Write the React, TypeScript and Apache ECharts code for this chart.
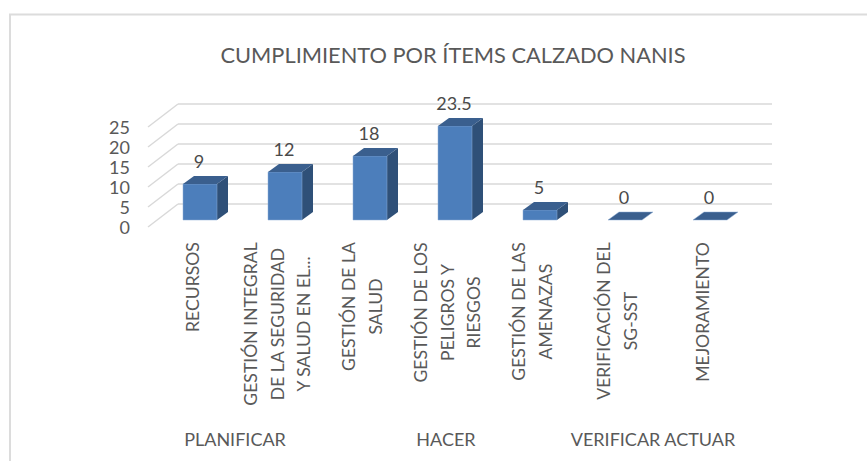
import React, { useEffect, useRef } from "react";
import * as echarts from "echarts";

const title = "CUMPLIMIENTO POR ÍTEMS CALZADO NANIS";
const categories = [
  "RECURSOS",
  "GESTIÓN INTEGRAL\nDE LA SEGURIDAD\nY SALUD EN EL...",
  "GESTIÓN DE LA\nSALUD",
  "GESTIÓN DE LOS\nPELIGROS Y\nRIESGOS",
  "GESTIÓN DE LAS\nAMENAZAS",
  "VERIFICACIÓN DEL\nSG-SST",
  "MEJORAMIENTO",
];
// Bar heights as drawn in the picture; the printed labels differ for two bars.
const values = [9, 12, 16, 23.5, 2.5, 0, 0];
const valueLabels = ["9", "12", "18", "23.5", "5", "0", "0"];
const groups = ["PLANIFICAR", "HACER", "VERIFICAR ACTUAR"];
const ticks = [0, 5, 10, 15, 20, 25];

const FONT = "Lato";
const INK = "#595959";
const LABEL_SIZE = 17.6;

export default function App() {
  const ref = useRef<HTMLDivElement>(null);
  useEffect(() => {
    const chart = echarts.init(ref.current!, undefined, { renderer: "svg" });
    const rich: Record<string, any> = {};
    const keyOf = categories.map((c, i) => {
      const font = `${LABEL_SIZE}px ${FONT}`;
      const w = Math.max(...c.split("\n").map((l) => (echarts as any).format.getTextRect(l, font).width));
      rich["c" + i] = { width: Math.ceil(w), align: "center", fontFamily: FONT, fontSize: LABEL_SIZE, color: INK, lineHeight: 26.5 };
      return "c" + i;
    });
    const yAxisBase = { type: "value", min: 0, max: 25, interval: 5, axisLine: { show: false }, axisTick: { show: false } };
    const hiddenX = { type: "category", data: categories, show: false };
    chart.setOption({
      animation: false,
      backgroundColor: "#fff",
      title: {
        text: title,
        left: 448,
        top: 38,
        textAlign: "center",
        textStyle: { fontFamily: FONT, fontSize: 21.8, fontWeight: "normal", color: INK },
      },
      grid: [
        { left: 148, width: 595, top: 127, height: 100 },
        { left: 157.5, width: 595, top: 120, height: 100 },
        { left: 178, width: 594, top: 104, height: 100 },
        { left: 149.5, width: 595, top: 120, height: 100 },
      ],
      xAxis: [
        { ...hiddenX, gridIndex: 0 },
        { ...hiddenX, gridIndex: 1 },
        { ...hiddenX, gridIndex: 2 },
        {
          type: "category",
          gridIndex: 3,
          data: categories,
          axisLine: { show: false },
          axisTick: { show: false },
          axisLabel: {
            interval: 0,
            rotate: 90,
            margin: 22,
            align: "right",
            verticalAlign: "middle",
            formatter: (v: string) => {
              const i = categories.indexOf(v);
              return v.split("\n").map((l) => `{${keyOf[i]}|${l}}`).join("\n");
            },
            rich,
          },
        },
      ],
      yAxis: [
        {
          ...yAxisBase,
          gridIndex: 0,
          splitLine: { show: false },
          axisLabel: { margin: 18, fontFamily: FONT, fontSize: 18, color: INK },
        },
        { ...yAxisBase, gridIndex: 1, show: false },
        {
          ...yAxisBase,
          gridIndex: 2,
          axisLabel: { show: false },
          splitLine: { show: true, lineStyle: { color: "#D9D9D9", width: 1.5 } },
        },
        { ...yAxisBase, gridIndex: 3, show: false },
      ],
      graphic: [
        { type: "rect", silent: true, shape: { x: 10, y: 14.5, width: 900, height: 500 }, style: { fill: "none", stroke: "#DCDCDC", lineWidth: 2 } },
        ...groups.map((g, i) => ({
          type: "text",
          x: [235, 446, 653][i],
          y: 439,
          style: { text: g, fontFamily: FONT, fontSize: 18, fill: INK, align: "center", verticalAlign: "middle" },
        })),
      ],
      series: [
        {
          type: "custom",
          name: "depth",
          coordinateSystem: "cartesian2d",
          xAxisIndex: 0,
          yAxisIndex: 0,
          silent: true,
          data: ticks.map((t) => [categories[0], t]),
          renderItem: (_p: any, api: any) => {
            const y = api.coord([0, api.value(1)])[1];
            return {
              type: "line",
              shape: { x1: 148, y1: y, x2: 178, y2: y - 23 },
              style: { stroke: "#D9D9D9", lineWidth: 1.5 },
            };
          },
        },
        {
          type: "custom",
          name: "values",
          coordinateSystem: "cartesian2d",
          xAxisIndex: 1,
          yAxisIndex: 1,
          data: values.map((v, i) => [i, v]),
          renderItem: (p: any, api: any) => {
            const v = api.value(1);
            const [cx, top] = api.coord([api.value(0), v]);
            const base = api.coord([api.value(0), 0])[1];
            const w = api.size([1, 0])[0] * 0.4;
            const l = cx - w / 2;
            const r = cx + w / 2;
            const dx = 11;
            const dy = 8;
            const children: any[] = [];
            if (v > 0) {
              children.push({
                type: "polygon",
                shape: { points: [[r, top], [r + dx, top - dy], [r + dx, base - dy], [r, base]] },
                style: { fill: "#2F5078" },
              });
              children.push({
                type: "rect",
                shape: { x: l, y: top, width: w, height: base - top },
                style: { fill: "#4C7EBB", stroke: "#8FAFD6", lineWidth: 0.5 },
              });
            }
            children.push({
              type: "polygon",
              shape: { points: [[l, top], [l + dx, top - dy], [r + dx, top - dy], [r, top]] },
              style: { fill: "#3A5F8E", stroke: v > 0 ? "none" : "#8FAFD6", lineWidth: 0.5 },
            });
            children.push({
              type: "text",
              x: cx - 1,
              y: top - 23,
              style: { text: valueLabels[p.dataIndex], fontFamily: FONT, fontSize: 18, fill: "#4A4A4A", align: "center", verticalAlign: "middle" },
            });
            return { type: "group", children };
          },
        },
      ],
    });
    return () => chart.dispose();
  }, []);
  return <div ref={ref} style={{ position: "fixed", left: 0, top: 0, width: 867, height: 461 }} />;
}
